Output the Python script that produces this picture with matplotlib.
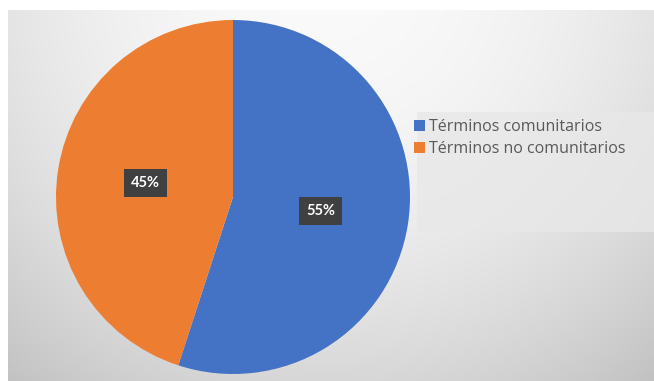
import numpy as np
import matplotlib
matplotlib.use('Agg')
import matplotlib.pyplot as plt
from matplotlib.patches import Patch, Rectangle

labels = ['Términos comunitarios', 'Términos no comunitarios']
values = [55, 45]
colors = ['#4472C4', '#ED7D31']

W, H = 654, 381
fig = plt.figure(figsize=(W / 100, H / 100), dpi=100)
fig.patch.set_facecolor('white')

# background: soft radial gradient of the chart area
bg = fig.add_axes([8 / W, 0, 1 - 8 / W, 1 - 10 / H])
bg.set_axis_off()
yy, xx = np.mgrid[10:H, 8:W]
d = np.hypot(xx - 330, yy + 30) / 522.0
shade = np.clip(250 - 56 * d ** 2, 190, 252) / 255.0
bg.imshow(np.dstack([shade] * 3), aspect='auto', interpolation='bilinear')

# lighter legend area
fig.patches.append(Rectangle((417 / W, 1 - 232 / H), (W - 417) / W, 120 / H,
                             transform=fig.transFigure, facecolor='#e8e8e8',
                             edgecolor='none', alpha=0.8, zorder=0.5))

# pie
cx, cy, r = 233, 197, 177
ax = fig.add_axes([(cx - r) / W, (H - cy - r) / H, 2 * r / W, 2 * r / H])
wedges, texts, autotexts = ax.pie(values, colors=colors, startangle=90, counterclock=False,
                                  autopct='%1.0f%%', pctdistance=0.5,
                                  wedgeprops=dict(linewidth=0))
for t in autotexts:
    t.set_color('white')
    t.set_fontsize(10.5)
    t.set_fontweight('bold')
    t.set_family('Lato')
    t.set_bbox(dict(facecolor='#404040', edgecolor='none', boxstyle='square,pad=0.5'))
ax.set_xlim(-1, 1)
ax.set_ylim(-1, 1)
ax.set_aspect('equal')

# legend
handles = [Patch(facecolor=c, edgecolor='none') for c in colors]
leg = fig.legend(handles, labels, loc='upper left', bbox_to_anchor=(414 / W, 1 - 119 / H),
                 frameon=False, handlelength=0.7, handleheight=0.7,
                 handletextpad=0.25, labelspacing=0.4, borderaxespad=0, borderpad=0,
                 prop={'family': 'Open Sans', 'size': 11.5})
for t in leg.get_texts():
    t.set_color('#595959')

fig.savefig('out.png', dpi=100)
